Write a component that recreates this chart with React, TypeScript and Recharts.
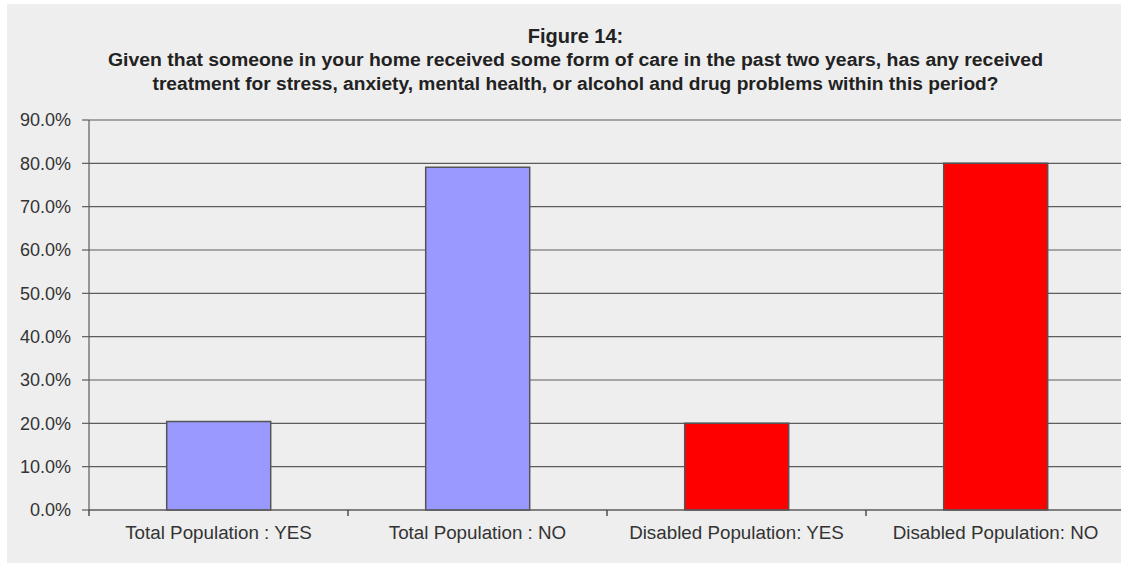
import React from 'react';
import { BarChart, Bar, Cell, XAxis, YAxis, CartesianGrid } from 'recharts';

// values (percent)
const categories = [
  'Total Population : YES',
  'Total Population : NO',
  'Disabled Population: YES',
  'Disabled Population: NO',
];
const shares = [20.4, 79.1, 20.0, 80.0];
const groups = ['total', 'total', 'disabled', 'disabled'];
const yTicks = [0, 10, 20, 30, 40, 50, 60, 70, 80, 90];

const titleLines = [
  'Figure 14:',
  'Given that someone in your home received some form of care in the past two years, has any received',
  'treatment for stress, anxiety, mental health, or alcohol and drug problems within this period?',
];

const groupColor: Record<string, string> = {
  total: '#9999ff',
  disabled: '#ff0000',
};

const data = categories.map((name, i) => ({ name, value: shares[i], group: groups[i] }));

const FONT = '"Liberation Sans", Arial, sans-serif';
const INK = '#333333';
const LINE = '#5c5c5c';

// category label centred in the band, tick mark on the band's left edge
function CategoryTick(props: any) {
  const { x, y, payload } = props;
  const half = payload && typeof payload.offset === 'number' ? payload.offset : 129.5;
  const edge = x - half;
  return (
    <g>
      <line x1={edge} x2={edge} y1={y} y2={y + 6} stroke="#444444" strokeWidth={1.4} />
      <text
        x={x}
        y={y + 16}
        dy="0.71em"
        textAnchor="middle"
        fontSize={18.8}
        fill={INK}
        fontFamily={FONT}
      >
        {payload.value}
      </text>
    </g>
  );
}

export default function App() {
  return (
    <div
      style={{
        position: 'absolute',
        left: 7,
        top: 4,
        width: 1114,
        height: 559,
        background: '#eeeeee',
        overflow: 'hidden',
        fontFamily: FONT,
      }}
    >
      <svg
        width={1114}
        height={110}
        style={{ position: 'absolute', left: 0, top: 0, pointerEvents: 'none' }}
      >
        <text x={568.5} y={39} textAnchor="middle" fontSize={20} fontWeight="bold" fill="#222">
          {titleLines[0]}
        </text>
        <text
          x={568.5}
          y={62}
          textAnchor="middle"
          fontSize={18}
          fontWeight="bold"
          fill="#222"
          textLength={935}
          lengthAdjust="spacingAndGlyphs"
        >
          {titleLines[1]}
        </text>
        <text
          x={568.5}
          y={85.5}
          textAnchor="middle"
          fontSize={18}
          fontWeight="bold"
          fill="#222"
          textLength={846}
          lengthAdjust="spacingAndGlyphs"
        >
          {titleLines[2]}
        </text>
      </svg>
      <BarChart
        width={1118}
        height={559}
        data={data}
        margin={{ top: 116, right: 0, left: 0, bottom: 0 }}
        barCategoryGap="30%"
      >
        <CartesianGrid vertical={false} stroke={LINE} strokeWidth={1.2} horizontalValues={yTicks} />
        <XAxis
          dataKey="name"
          height={53}
          axisLine={{ stroke: LINE, strokeWidth: 1.2 }}
          tickLine={false}
          tickSize={0}
          tickMargin={0}
          interval={0}
          tick={<CategoryTick />}
        />
        <YAxis
          type="number"
          domain={[0, 90]}
          ticks={yTicks}
          width={82}
          tickSize={7}
          tickMargin={11}
          tickFormatter={(v: number) => `${v.toFixed(1)}%`}
          tick={{ fontSize: 18, fill: INK, fontFamily: FONT }}
          axisLine={{ stroke: LINE, strokeWidth: 1.2 }}
          tickLine={{ stroke: LINE, strokeWidth: 1.2 }}
        />
        <Bar dataKey="value" stroke="#555555" strokeWidth={1.5} isAnimationActive={false}>
          {data.map((d) => (
            <Cell key={d.name} fill={groupColor[d.group]} />
          ))}
        </Bar>
      </BarChart>
    </div>
  );
}
